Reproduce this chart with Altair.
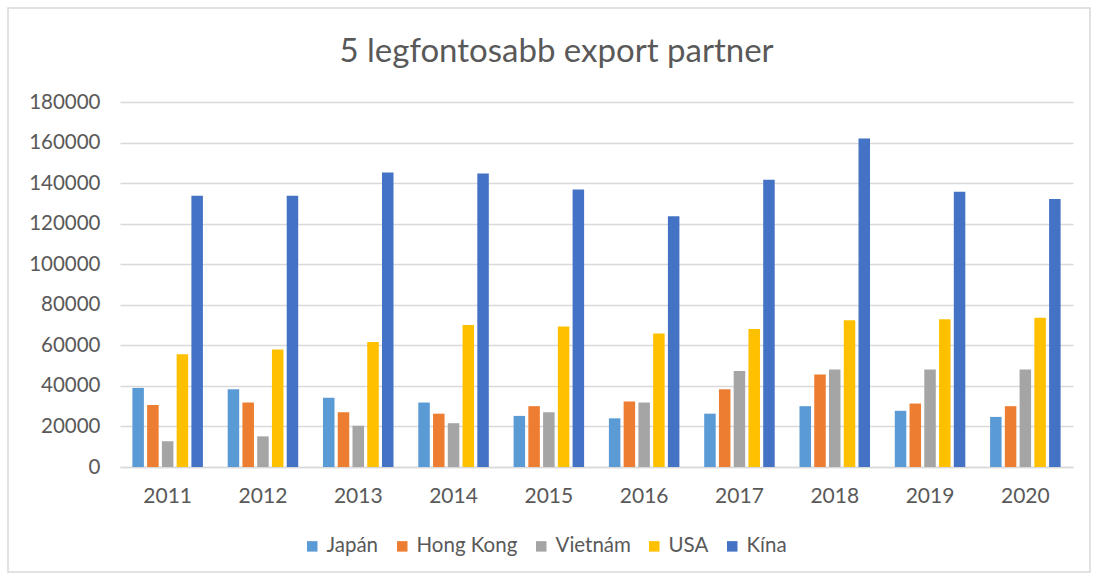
import altair as alt
import pandas as pd

years = ["2011", "2012", "2013", "2014", "2015", "2016", "2017", "2018", "2019", "2020"]
countries = ["Japán", "Hong Kong", "Vietnám", "USA", "Kína"]
colors = ["#5B9BD5", "#ED7D31", "#A5A5A5", "#FFC000", "#4472C4"]

japan = [39000, 38400, 34200, 31800, 25200, 24000, 26300, 30000, 27700, 24700]
hongkong = [30600, 31800, 27000, 26300, 30000, 32300, 38400, 45600, 31300, 30000]
vietnam = [12700, 15100, 20400, 21600, 27000, 31800, 47400, 48100, 48100, 48100]
usa = [55600, 57900, 61600, 70000, 69300, 65800, 68100, 72400, 72900, 73600]
china = [133800, 133800, 145200, 144700, 136800, 123600, 141700, 162000, 135800, 132200]

series = [japan, hongkong, vietnam, usa, china]
rows = []
for c, vals in zip(countries, series):
    for y, v in zip(years, vals):
        rows.append({"year": y, "country": c, "value": v})
df = pd.DataFrame(rows)

font = "Lato"
txt = "#595959"

bars = alt.Chart(df).mark_bar().encode(
    x=alt.X("year:N", sort=years, title=None,
            scale=alt.Scale(paddingInner=0.26, paddingOuter=0.13),
            axis=alt.Axis(labelAngle=0, ticks=False, domainColor="#D9D9D9", domainWidth=1.5,
                          labelFontSize=21, labelColor=txt, labelFont=font, labelPadding=18)),
    xOffset=alt.XOffset("country:N", sort=countries, scale=alt.Scale(paddingInner=0.22)),
    y=alt.Y("value:Q", title=None,
            scale=alt.Scale(domain=[0, 180000]),
            axis=alt.Axis(values=list(range(0, 180001, 20000)), format="d", domain=False, ticks=False,
                          gridColor="#D9D9D9", gridWidth=1.5, labelFontSize=20.5, labelColor=txt,
                          labelFont=font, labelPadding=20)),
    color=alt.Color("country:N", sort=countries,
                    scale=alt.Scale(domain=countries, range=colors),
                    legend=alt.Legend(title=None, orient="none", direction="horizontal",
                                      legendX=182, legendY=434, symbolType="square",
                                      symbolSize=110, labelFontSize=20.5, labelColor=txt,
                                      labelFont=font, columnPadding=13, symbolStrokeWidth=0)),
)

frame = alt.Chart(pd.DataFrame({"a": [0]})).mark_rect(fill=None, stroke="#D9D9D9", strokeWidth=1.5).encode(
    x=alt.value(-112), x2=alt.value(970), y=alt.value(-94), y2=alt.value(470)
)

chart = alt.layer(frame, bars).properties(
    width=953, height=365,
    title=alt.Title("5 legfontosabb export partner", font=font, fontSize=33, fontWeight="normal",
                    color=txt, anchor="middle", offset=-62, dx=-40),
    autosize=alt.AutoSizeParams(type="none"),
    padding={"left": 120, "top": 102, "right": 26, "bottom": 112},
).configure_view(stroke=None)

chart.save("out.html", embed_options={"renderer": "svg", "actions": False})
